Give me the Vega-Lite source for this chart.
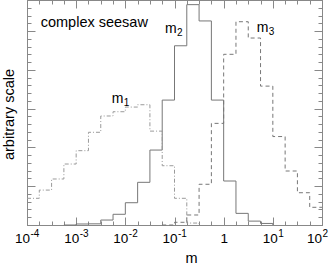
{
  "$schema": "https://vega.github.io/schema/vega-lite/v6.json",
  "width": 295,
  "height": 225,
  "padding": {"left": 27, "top": 0, "right": 10, "bottom": 41},
  "autosize": {"type": "none"},
  "background": "white",
  "config": {
    "view": {"stroke": "#888", "strokeWidth": 1},
    "font": "Liberation Sans",
    "axis": {
      "domain": false,
      "grid": false,
      "tickColor": "#888",
      "tickWidth": 1,
      "labelColor": "#000",
      "titleColor": "#000",
      "labelFont": "Liberation Sans",
      "titleFont": "Liberation Sans",
      "titleFontWeight": "normal"
    }
  },
  "datasets": {
    "hist": [
      {"series": "m1", "m": 0.0001, "v": 3.44},
      {"series": "m1", "m": 0.000177828, "v": 4.5},
      {"series": "m1", "m": 0.000316228, "v": 5.93},
      {"series": "m1", "m": 0.000562341, "v": 7.86},
      {"series": "m1", "m": 0.001, "v": 9.58},
      {"series": "m1", "m": 0.00177828, "v": 11.95},
      {"series": "m1", "m": 0.00316228, "v": 14.05},
      {"series": "m1", "m": 0.00562341, "v": 14.6},
      {"series": "m1", "m": 0.01, "v": 15.2},
      {"series": "m1", "m": 0.0177828, "v": 15.5},
      {"series": "m1", "m": 0.0316228, "v": 12.1},
      {"series": "m1", "m": 0.0562341, "v": 7.64},
      {"series": "m1", "m": 0.1, "v": 3.44},
      {"series": "m1", "m": 0.177828, "v": 0.25},
      {"series": "m1", "m": 0.316228, "v": 0},
      {"series": "m2", "m": 0.000562341, "v": 0},
      {"series": "m2", "m": 0.001, "v": 0.13},
      {"series": "m2", "m": 0.00177828, "v": 0.15},
      {"series": "m2", "m": 0.00316228, "v": 0.64},
      {"series": "m2", "m": 0.00562341, "v": 1.38},
      {"series": "m2", "m": 0.01, "v": 2.87},
      {"series": "m2", "m": 0.0177828, "v": 5.5},
      {"series": "m2", "m": 0.0316228, "v": 9.66},
      {"series": "m2", "m": 0.0562341, "v": 16.1},
      {"series": "m2", "m": 0.1, "v": 23.1},
      {"series": "m2", "m": 0.177828, "v": 28.4},
      {"series": "m2", "m": 0.316228, "v": 26.3},
      {"series": "m2", "m": 0.562341, "v": 16.1},
      {"series": "m2", "m": 1, "v": 5.67},
      {"series": "m2", "m": 1.77828, "v": 1.5},
      {"series": "m2", "m": 3.16228, "v": 0.5},
      {"series": "m2", "m": 5.62341, "v": 0.2},
      {"series": "m2", "m": 10, "v": 0},
      {"series": "m3", "m": 0.0562341, "v": 0},
      {"series": "m3", "m": 0.1, "v": 0.35},
      {"series": "m3", "m": 0.177828, "v": 1.29},
      {"series": "m3", "m": 0.316228, "v": 5.25},
      {"series": "m3", "m": 0.562341, "v": 13.1},
      {"series": "m3", "m": 1, "v": 22.0},
      {"series": "m3", "m": 1.77828, "v": 26.2},
      {"series": "m3", "m": 3.16228, "v": 24.1},
      {"series": "m3", "m": 5.62341, "v": 17.9},
      {"series": "m3", "m": 10, "v": 11.4},
      {"series": "m3", "m": 17.7828, "v": 6.96},
      {"series": "m3", "m": 31.6228, "v": 4.16},
      {"series": "m3", "m": 56.2341, "v": 2.28},
      {"series": "m3", "m": 100, "v": 2.28}
    ],
    "labels": [
      {"name": "m", "sub": "1", "m": 0.00528, "v": 15.7},
      {"name": "m", "sub": "2", "m": 0.0641, "v": 24.7},
      {"name": "m", "sub": "3", "m": 4.69, "v": 24.9}
    ],
    "note": [
      {"text": "complex seesaw", "m": 0.00019, "v": 25.55}
    ]
  },
  "resolve": {"axis": {"x": "independent", "y": "independent"}},
  "layer": [
    {
      "data": {"name": "hist"},
      "transform": [{"filter": "datum.series === 'm2'"}],
      "mark": {"type": "line", "interpolate": "step-after", "color": "#777", "strokeWidth": 1},
      "encoding": {
        "x": {
          "field": "m", "type": "quantitative",
          "scale": {"type": "log", "domain": [0.0001, 100], "nice": false},
          "axis": {
            "orient": "bottom",
            "values": [0.0001, 0.001, 0.01, 0.1, 1, 10, 100],
            "tickSize": -8,
            "labelPadding": 14,
            "labelFontSize": 13.5,
            "labelFlush": false,
            "labelOverlap": false,
            "labelExpr": "datum.value > 0.5 && datum.value < 2 ? '1' : '10'",
            "labelOffset": {"expr": "datum.value > 0.5 && datum.value < 2 ? 0 : datum.value > 50 ? -8 : datum.value > 5 ? -3 : -5"},
            "title": "m",
            "titleFontSize": 14.5,
            "titleX": 164,
            "titleY": 37,
            "titleBaseline": "alphabetic"
          }
        },
        "y": {
          "field": "v", "type": "quantitative",
          "scale": {"domain": [0, 29], "nice": false, "zero": false},
          "axis": {
            "orient": "left",
            "values": [0, 5, 10, 15, 20, 25],
            "tickSize": -8,
            "labels": false,
            "title": "arbitrary scale",
            "titleFontSize": 14.5,
            "titleX": -13.5,
            "titleY": 114,
            "titleBaseline": "alphabetic"
          }
        }
      }
    },
    {
      "data": {"name": "hist"},
      "transform": [{"filter": "datum.series === 'm1'"}],
      "mark": {"type": "line", "interpolate": "step-after", "color": "#9a9a9a", "strokeWidth": 1, "strokeDash": [4, 2, 1, 2]},
      "encoding": {
        "x": {
          "field": "m", "type": "quantitative",
          "scale": {"type": "log", "domain": [0.0001, 100], "nice": false},
          "axis": {
            "orient": "bottom",
            "values": [0.0001, 0.000177828, 0.000316228, 0.000562341, 0.001, 0.00177828, 0.00316228, 0.00562341, 0.01, 0.0177828, 0.0316228, 0.0562341, 0.1, 0.177828, 0.316228, 0.562341, 1, 1.77828, 3.16228, 5.62341, 10, 17.7828, 31.6228, 56.2341, 100],
            "tickSize": -4,
            "labels": false,
            "title": null
          }
        },
        "y": {
          "field": "v", "type": "quantitative",
          "scale": {"domain": [0, 29], "nice": false, "zero": false},
          "axis": {
            "orient": "left",
            "values": [0, 1, 2, 3, 4, 5, 6, 7, 8, 9, 10, 11, 12, 13, 14, 15, 16, 17, 18, 19, 20, 21, 22, 23, 24, 25, 26, 27, 28, 29],
            "tickSize": -4,
            "labels": false,
            "title": null
          }
        }
      }
    },
    {
      "data": {"name": "hist"},
      "transform": [{"filter": "datum.series === 'm3'"}],
      "mark": {"type": "line", "interpolate": "step-after", "color": "#777", "strokeWidth": 1, "strokeDash": [4, 3]},
      "encoding": {
        "x": {
          "field": "m", "type": "quantitative",
          "scale": {"type": "log", "domain": [0.0001, 100], "nice": false},
          "axis": {
            "orient": "top",
            "values": [0.0001, 0.001, 0.01, 0.1, 1, 10, 100],
            "tickSize": -8,
            "labels": false,
            "title": null
          }
        },
        "y": {
          "field": "v", "type": "quantitative",
          "scale": {"domain": [0, 29], "nice": false, "zero": false},
          "axis": {
            "orient": "right",
            "values": [0, 5, 10, 15, 20, 25],
            "tickSize": -8,
            "labels": false,
            "title": null
          }
        }
      }
    },
    {
      "data": {"name": "labels"},
      "mark": {"type": "text", "align": "left", "baseline": "alphabetic", "fontSize": 14, "color": "#000"},
      "encoding": {
        "text": {"field": "name"},
        "x": {
          "field": "m", "type": "quantitative",
          "scale": {"type": "log", "domain": [0.0001, 100], "nice": false},
          "axis": {
            "orient": "top",
            "values": [0.0001, 0.000177828, 0.000316228, 0.000562341, 0.001, 0.00177828, 0.00316228, 0.00562341, 0.01, 0.0177828, 0.0316228, 0.0562341, 0.1, 0.177828, 0.316228, 0.562341, 1, 1.77828, 3.16228, 5.62341, 10, 17.7828, 31.6228, 56.2341, 100],
            "tickSize": -4,
            "labels": false,
            "title": null
          }
        },
        "y": {
          "field": "v", "type": "quantitative",
          "scale": {"domain": [0, 29], "nice": false, "zero": false},
          "axis": {
            "orient": "right",
            "values": [0, 1, 2, 3, 4, 5, 6, 7, 8, 9, 10, 11, 12, 13, 14, 15, 16, 17, 18, 19, 20, 21, 22, 23, 24, 25, 26, 27, 28, 29],
            "tickSize": -4,
            "labels": false,
            "title": null
          }
        }
      }
    },
    {
      "data": {"name": "labels"},
      "mark": {"type": "text", "align": "left", "baseline": "alphabetic", "fontSize": 10, "dx": 12, "dy": 3, "color": "#000"},
      "encoding": {
        "text": {"field": "sub"},
        "x": {
          "field": "m", "type": "quantitative",
          "scale": {"type": "log", "domain": [0.0001, 100], "nice": false},
          "axis": null
        },
        "y": {
          "field": "v", "type": "quantitative",
          "scale": {"domain": [0, 29], "nice": false, "zero": false},
          "axis": null
        }
      }
    },
    {
      "data": {"name": "note"},
      "mark": {"type": "text", "align": "left", "baseline": "alphabetic", "fontSize": 14.5, "color": "#000"},
      "encoding": {
        "text": {"field": "text"},
        "x": {
          "field": "m", "type": "quantitative",
          "scale": {"type": "log", "domain": [0.0001, 100], "nice": false},
          "axis": {
            "orient": "bottom",
            "values": [0.0001, 0.001, 0.01, 0.1, 10, 100],
            "tickSize": 0,
            "labelPadding": 3,
            "labelFontSize": 10,
            "labelAlign": "left",
            "labelFlush": false,
            "labelOverlap": false,
            "labelExpr": "datum.value < 0.0002 ? '-4' : datum.value < 0.002 ? '-3' : datum.value < 0.02 ? '-2' : datum.value < 0.2 ? '-1' : datum.value < 20 ? '1' : '2'",
            "labelOffset": {"expr": "datum.value > 50 ? 0 : datum.value > 5 ? 5 : 3"},
            "title": null
          }
        },
        "y": {
          "field": "v", "type": "quantitative",
          "scale": {"domain": [0, 29], "nice": false, "zero": false},
          "axis": null
        }
      }
    }
  ]
}
